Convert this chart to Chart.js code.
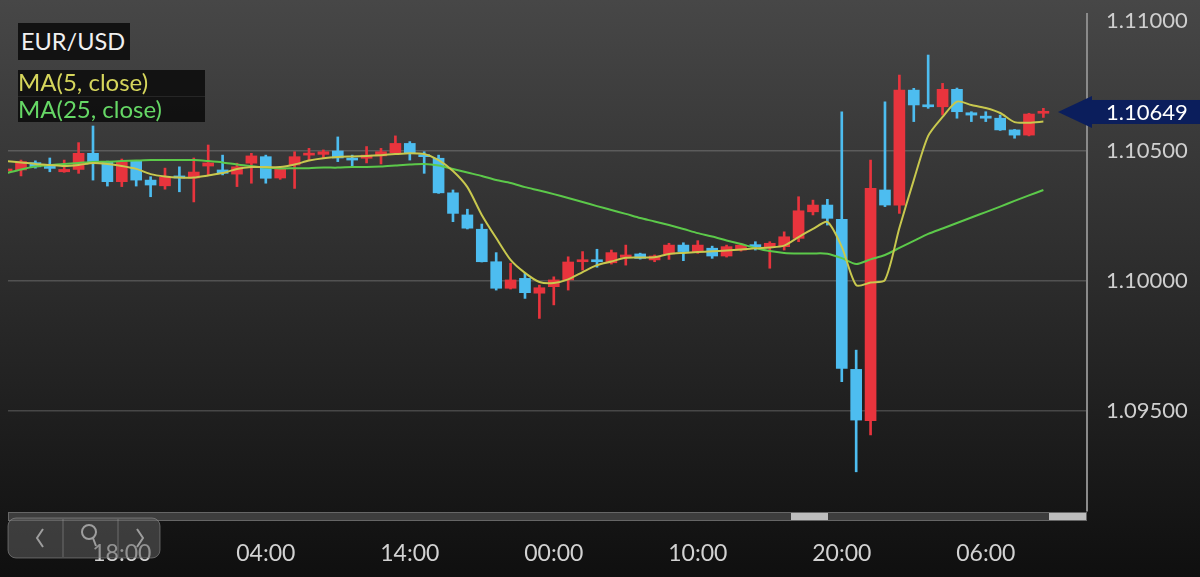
<!DOCTYPE html>
<html>
<head>
<meta charset="utf-8">
<script src="https://cdn.jsdelivr.net/npm/chart.js@4.4.1/dist/chart.umd.min.js"></script>
<style>
  html, body { margin: 0; padding: 0; background: #111; }
  #wrap { position: relative; width: 1200px; height: 577px; overflow: hidden; }
  canvas { display: block; }
  .box { position: absolute; font-family: Lato, sans-serif; box-sizing: border-box; }
  #pair { left: 18px; top: 23px; width: 112px; height: 37px; background: #121212; color: #f0f0f0;
          font-size: 23.5px; line-height: 37px; padding-left: 3px; }
  #ma { left: 18px; top: 70px; width: 187px; height: 52px; background: rgba(14,14,14,0.92); font-size: 24px; }
  #ma div { height: 26px; line-height: 23px; }
  #ma5 { color: #d6d65c; border-bottom: 1px solid #262626; }
  #ma25 { color: #66d866; }
</style>
</head>
<body>
<div id="wrap">
  <canvas id="myChart" width="1200" height="577"></canvas>
  <div class="box" id="pair">EUR/USD</div>
  <div class="box" id="ma"><div id="ma5">MA(5, close)</div><div id="ma25">MA(25, close)</div></div>
</div>
<script>
const ctx = document.getElementById('myChart');

// hour index, 0 = 18:00 of the first day
const hours = [-8, -7, -6, -5, -4, -3, -2, -1, 0, 1, 2, 3, 4, 5, 6, 7, 8, 9, 10, 11, 12, 13, 14, 15, 16,
  17, 18, 19, 20, 21, 22, 23, 24, 25, 26, 27, 28, 29, 30, 31, 32, 33, 34, 35, 36, 37, 38, 39, 40,
  41, 42, 43, 44, 45, 46, 47, 48, 49, 50, 51, 52, 53, 54, 55, 56, 57, 58, 59, 60, 61, 62, 63, 64];

const open = [1.10422, 1.10426, 1.10454, 1.10438, 1.10419, 1.10428, 1.10490, 1.10458, 1.10381, 1.10460,
  1.10387, 1.10365, 1.10403, 1.10395, 1.10441, 1.10426, 1.10410, 1.10452, 1.10477, 1.10395,
  1.10445, 1.10483, 1.10486, 1.10499, 1.10470, 1.10471, 1.10480, 1.10492, 1.10528, 1.10483,
  1.10471, 1.10338, 1.10253, 1.10198, 1.10073, 1.09971, 1.10009, 1.09952, 1.09977, 1.10003,
  1.10073, 1.10080, 1.10069, 1.10090, 1.10103, 1.10080, 1.10103, 1.10137, 1.10112, 1.10125,
  1.10095, 1.10118, 1.10137, 1.10131, 1.10131, 1.10163, 1.10265, 1.10291, 1.10236, 1.09659,
  1.09462, 1.10349, 1.10291, 1.10733, 1.10676, 1.10669, 1.10736, 1.10646, 1.10633, 1.10625,
  1.10580, 1.10560, 1.10644];

const high = [1.10426, 1.10464, 1.10461, 1.10472, 1.10464, 1.10531, 1.10595, 1.10460, 1.10468, 1.10462,
  1.10400, 1.10433, 1.10438, 1.10472, 1.10522, 1.10483, 1.10452, 1.10490, 1.10483, 1.10440,
  1.10496, 1.10509, 1.10503, 1.10553, 1.10483, 1.10516, 1.10509, 1.10557, 1.10535, 1.10496,
  1.10483, 1.10349, 1.10275, 1.10218, 1.10108, 1.10067, 1.10028, 1.09983, 1.10015, 1.10092,
  1.10112, 1.10121, 1.10118, 1.10137, 1.10106, 1.10099, 1.10144, 1.10146, 1.10154, 1.10133,
  1.10137, 1.10144, 1.10150, 1.10150, 1.10188, 1.10323, 1.10310, 1.10313, 1.10650, 1.09733,
  1.10464, 1.10688, 1.10791, 1.10740, 1.10868, 1.10759, 1.10741, 1.10650, 1.10650, 1.10637,
  1.10582, 1.10644, 1.10663];

const low = [1.10420, 1.10403, 1.10433, 1.10419, 1.10417, 1.10413, 1.10387, 1.10364, 1.10362, 1.10364,
  1.10323, 1.10352, 1.10342, 1.10303, 1.10407, 1.10407, 1.10362, 1.10375, 1.10375, 1.10390,
  1.10355, 1.10464, 1.10472, 1.10458, 1.10438, 1.10453, 1.10449, 1.10490, 1.10464, 1.10413,
  1.10336, 1.10227, 1.10199, 1.10072, 1.09964, 1.09968, 1.09932, 1.09855, 1.09907, 1.09964,
  1.10041, 1.10052, 1.10064, 1.10060, 1.10083, 1.10073, 1.10082, 1.10077, 1.10105, 1.10086,
  1.10091, 1.10114, 1.10118, 1.10048, 1.10118, 1.10150, 1.10253, 1.10214, 1.09612, 1.09265,
  1.09407, 1.10285, 1.10259, 1.10612, 1.10663, 1.10637, 1.10625, 1.10612, 1.10612, 1.10578,
  1.10548, 1.10557, 1.10628];

const close = [1.10424, 1.10458, 1.10438, 1.10432, 1.10428, 1.10490, 1.10452, 1.10381, 1.10458, 1.10387,
  1.10368, 1.10398, 1.10395, 1.10418, 1.10453, 1.10413, 1.10438, 1.10480, 1.10394, 1.10433,
  1.10477, 1.10490, 1.10496, 1.10472, 1.10464, 1.10483, 1.10496, 1.10528, 1.10490, 1.10477,
  1.10338, 1.10259, 1.10202, 1.10073, 1.09971, 1.10003, 1.09954, 1.09973, 1.10003, 1.10072,
  1.10080, 1.10073, 1.10108, 1.10099, 1.10086, 1.10095, 1.10137, 1.10112, 1.10137, 1.10095,
  1.10131, 1.10137, 1.10131, 1.10144, 1.10169, 1.10269, 1.10291, 1.10240, 1.09663, 1.09464,
  1.10355, 1.10291, 1.10733, 1.10676, 1.10669, 1.10736, 1.10650, 1.10637, 1.10625, 1.10580,
  1.10560, 1.10641, 1.10649];

const ma5 = [1.10460, 1.10455, 1.10449, 1.10445, 1.10441, 1.10445, 1.10453, 1.10449, 1.10441, 1.10430,
  1.10410, 1.10401, 1.10397, 1.10397, 1.10405, 1.10414, 1.10430, 1.10437, 1.10437, 1.10437,
  1.10447, 1.10462, 1.10471, 1.10476, 1.10478, 1.10480, 1.10483, 1.10487, 1.10490, 1.10487,
  1.10464, 1.10422, 1.10360, 1.10253, 1.10164, 1.10080, 1.10030, 1.09995, 1.09991, 1.10005,
  1.10033, 1.10060, 1.10074, 1.10088, 1.10089, 1.10090, 1.10103, 1.10107, 1.10110, 1.10113,
  1.10116, 1.10120, 1.10125, 1.10128, 1.10135, 1.10168, 1.10199, 1.10226, 1.10130, 1.09983,
  1.09993, 1.10003, 1.10203, 1.10387, 1.10557, 1.10630, 1.10689, 1.10676, 1.10664, 1.10645,
  1.10610, 1.10608, 1.10612];

const ma25 = [1.10414, 1.10428, 1.10439, 1.10445, 1.10449, 1.10453, 1.10457, 1.10458, 1.10460, 1.10462,
  1.10464, 1.10464, 1.10464, 1.10464, 1.10460, 1.10455, 1.10447, 1.10441, 1.10435, 1.10432,
  1.10433, 1.10433, 1.10435, 1.10435, 1.10437, 1.10437, 1.10439, 1.10443, 1.10447, 1.10449,
  1.10443, 1.10430, 1.10416, 1.10403, 1.10387, 1.10376, 1.10360, 1.10347, 1.10333, 1.10318,
  1.10303, 1.10287, 1.10272, 1.10257, 1.10241, 1.10228, 1.10214, 1.10199, 1.10183, 1.10170,
  1.10155, 1.10141, 1.10126, 1.10114, 1.10107, 1.10105, 1.10105, 1.10104, 1.10087, 1.10064,
  1.10082, 1.10099, 1.10126, 1.10153, 1.10180, 1.10201, 1.10222, 1.10243, 1.10264, 1.10285,
  1.10307, 1.10328, 1.10349];

const tickHours = [0, 10, 20, 30, 40, 50, 60];
const tickLabels = ["18:00", "04:00", "14:00", "00:00", "10:00", "20:00", "06:00"];
const priceTicks = [1.095, 1.100, 1.105, 1.110];

const UP = '#e8343d';
const DOWN = '#4dbdf0';
let colors = [];
for (let i = 0; i < open.length; i++) {
  colors.push(close[i] >= open[i] ? UP : DOWN);
}

/*  fundo, barra de rolagem, etiqueta do preço   */
const decor = {
  id: 'decor',
  beforeDraw(chart) {
    const c = chart.ctx;
    const g = c.createLinearGradient(0, 0, 0, 577);
    g.addColorStop(0, '#474747');
    g.addColorStop(0.5, '#2b2b2b');
    g.addColorStop(1, '#0f0f0f');
    c.save();
    c.fillStyle = g;
    c.fillRect(0, 0, 1200, 577);
    c.restore();
  },
  afterDraw(chart) {
    const c = chart.ctx;
    const area = chart.chartArea;
    c.save();

    // scrollbar
    c.fillStyle = '#3d3d3d';
    c.fillRect(area.left, 512, area.right - area.left, 9);
    c.strokeStyle = '#666';
    c.lineWidth = 1;
    c.strokeRect(area.left + 0.5, 512.5, area.right - area.left - 1, 8);
    c.fillStyle = '#bdbdbd';
    c.fillRect(791, 513, 37, 7);
    c.fillRect(1049, 513, 37, 7);

    // nav widget
    c.fillStyle = 'rgba(95,95,95,0.55)';
    c.strokeStyle = 'rgba(150,150,150,0.55)';
    c.beginPath();
    c.roundRect(8, 518, 152, 40, 8);
    c.fill();
    c.stroke();
    c.beginPath();
    c.moveTo(63, 519); c.lineTo(63, 557);
    c.moveTo(118, 519); c.lineTo(118, 557);
    c.stroke();
    c.strokeStyle = 'rgba(175,175,175,0.85)';
    c.lineWidth = 2;
    c.beginPath();
    c.moveTo(43, 529); c.lineTo(37, 538); c.lineTo(43, 547);
    c.moveTo(137, 529); c.lineTo(143, 538); c.lineTo(137, 547);
    c.stroke();
    c.beginPath();
    c.arc(89, 532, 7, 0, Math.PI * 2);
    c.moveTo(93, 538); c.lineTo(96, 546);
    c.stroke();

    // last price tag
    const last = close[close.length - 1];
    const y = chart.scales.y.getPixelForValue(last);
    c.fillStyle = '#0b1e5c';
    c.beginPath();
    c.moveTo(1058, y);
    c.lineTo(1092, y - 16);
    c.lineTo(1092, y + 16);
    c.closePath();
    c.fill();
    c.fillRect(1090, y - 12, 110, 24);
    c.fillStyle = '#ffffff';
    c.font = '22px Lato';
    c.textBaseline = 'middle';
    c.fillText(last.toFixed(5), 1106, y + 1);
    c.restore();
  }
};

new Chart(ctx, {
  type: 'bar',
  data: {
    datasets: [
      {
        type: 'line',
        data: hours.map((h, i) => ({x: h, y: ma5[i]})),
        borderColor: '#c8c84e',
        borderWidth: 2,
        pointRadius: 0,
        tension: 0.25,
        order: 0
      },
      {
        type: 'line',
        data: hours.map((h, i) => ({x: h, y: ma25[i]})),
        borderColor: '#5cc94a',
        borderWidth: 2,
        pointRadius: 0,
        tension: 0.25,
        order: 1
      },
      {
        data: hours.map((h, i) => ({x: h, y: [open[i], close[i]]})),
        backgroundColor: colors,
        barThickness: 11,
        minBarLength: 2,
        grouped: false,
        order: 2
      },
      {
        data: hours.map((h, i) => ({x: h, y: [low[i], high[i]]})),
        backgroundColor: colors,
        barThickness: 2,
        grouped: false,
        order: 3
      }
    ]
  },
  options: {
    responsive: false,
    animation: false,
    layout: { padding: { left: 8, top: 14, right: 0, bottom: 0 } },
    plugins: { legend: { display: false }, tooltip: { enabled: false } },
    scales: {
      x: {
        type: 'linear',
        min: -7.903,
        max: 67.03,
        offset: false,
        grid: { display: false, offset: false },
        border: { display: false },
        afterBuildTicks: scale => { scale.ticks = tickHours.map(v => ({value: v})); },
        afterFit: scale => { scale.height = 66; scale.paddingLeft = 0; scale.paddingRight = 0; },
        ticks: {
          autoSkip: false,
          maxRotation: 0,
          padding: 21,
          color: '#d2d2d2',
          font: { family: 'Lato', size: 23 },
          callback: (v, i) => tickLabels[i]
        }
      },
      y: {
        position: 'right',
        min: 1.091143,
        max: 1.110258,
        beginAtZero: false,
        grid: {
          drawTicks: false,
          lineWidth: 1.5,
          color: c => (c.tick && c.tick.value > 1.109) ? 'rgba(0,0,0,0)' : 'rgba(255,255,255,0.18)'
        },
        border: { display: true, color: '#8a8a8a', width: 2 },
        afterBuildTicks: scale => { scale.ticks = priceTicks.map(v => ({value: v})); },
        afterFit: scale => { scale.width = 113; scale.paddingTop = 0; scale.paddingBottom = 0; },
        ticks: {
          padding: 19,
          color: '#cfcfcf',
          font: { family: 'Lato', size: 22 },
          callback: v => v.toFixed(5)
        }
      }
    }
  },
  plugins: [decor]
});
</script>
</body>
</html>
